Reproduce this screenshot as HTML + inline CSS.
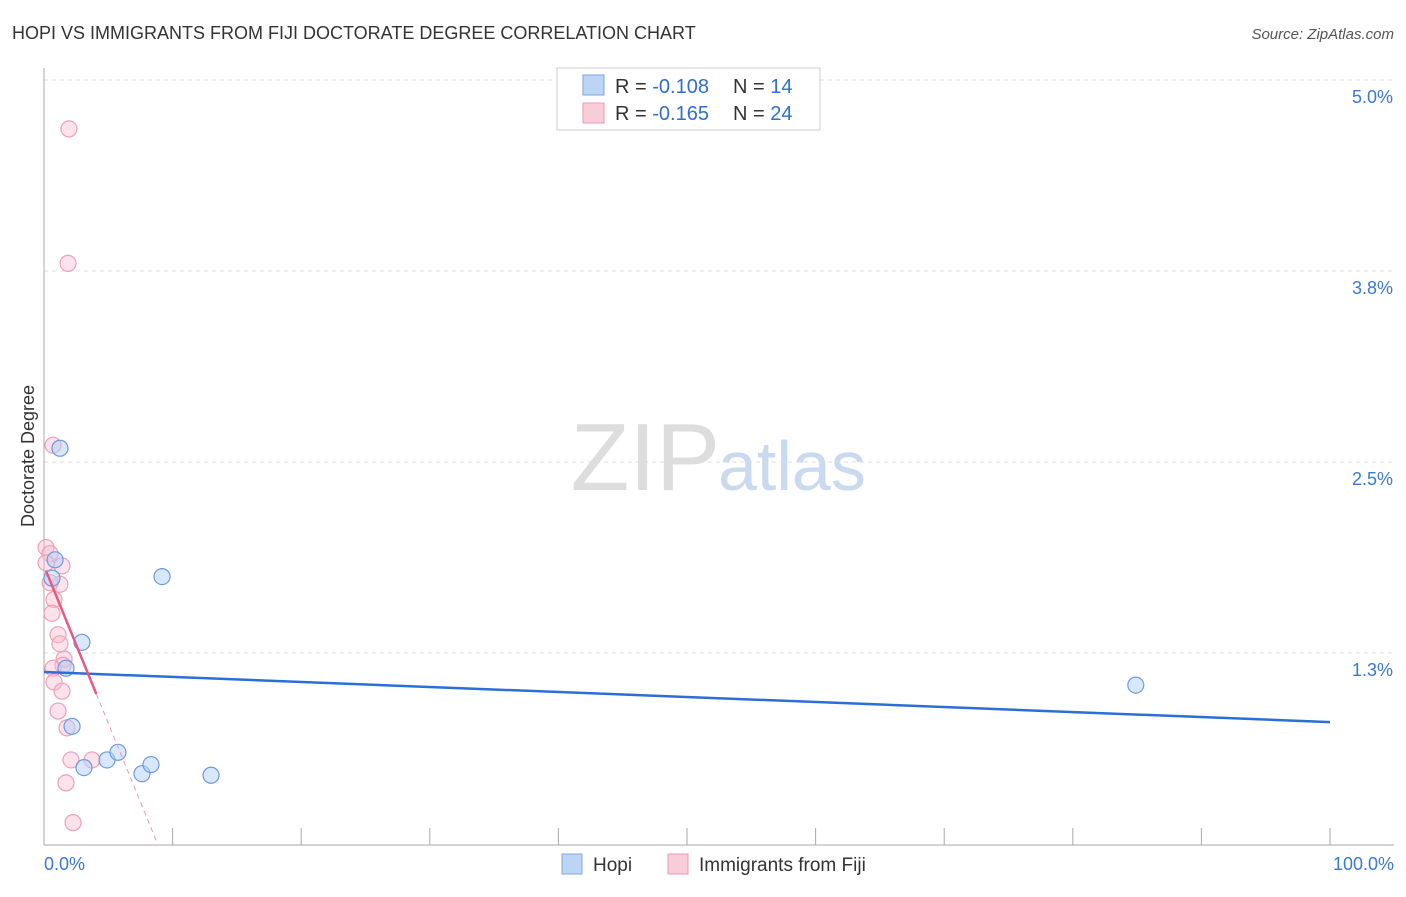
<!DOCTYPE html>
<html><head><meta charset="utf-8"><style>
body{margin:0;background:#fff;font-family:"Liberation Sans",sans-serif;}
svg text{font-family:"Liberation Sans",sans-serif;}
</style></head><body>
<svg id="c" width="1406" height="892">
<text x="12" y="39" font-size="18" fill="#333">HOPI VS IMMIGRANTS FROM FIJI DOCTORATE DEGREE CORRELATION CHART</text>
<text x="1394" y="39" font-size="15" fill="#555" font-style="italic" text-anchor="end">Source: ZipAtlas.com</text>
<text x="34" y="456" font-size="18" fill="#333" transform="rotate(-90 34 456)" text-anchor="middle">Doctorate Degree</text>
<text x="720" y="490" font-size="96" fill="#ddd" text-anchor="end" font-family="Liberation Serif">ZIP</text>
<text x="718" y="490" font-size="70" fill="#c9daf0">atlas</text>
<g id="grid"></g><g id="axes"></g><g id="marks"></g>
<g>
<rect x="557" y="68" width="263" height="62" fill="#fff" stroke="#ccc"/>
<rect x="583" y="75" width="21" height="20" fill="#bcd5f5" stroke="#7aa6e0"/>
<rect x="583" y="103" width="21" height="20" fill="#f9ccd9" stroke="#ec9ab4"/>
<text x="615" y="93" font-size="20" fill="#333">R = <tspan fill="#2f6fd0">-0.108</tspan></text>
<text x="733" y="93" font-size="20" fill="#333">N = <tspan fill="#2f6fd0"> 14</tspan></text>
<text x="615" y="120" font-size="20" fill="#333">R = <tspan fill="#2f6fd0">-0.165</tspan></text>
<text x="733" y="120" font-size="20" fill="#333">N = <tspan fill="#2f6fd0">24</tspan></text>
</g>
<g>
<rect x="562" y="854" width="20" height="20" fill="#bcd5f5" stroke="#7aa6e0"/>
<text x="593" y="871" font-size="19" fill="#333">Hopi</text>
<rect x="668" y="854" width="20" height="20" fill="#f9ccd9" stroke="#ec9ab4"/>
<text x="699" y="871" font-size="19" fill="#333">Immigrants from Fiji</text>
</g>
<text x="44" y="870" font-size="18" fill="#3a78d4">0.0%</text>
<text x="1394" y="870" font-size="18" fill="#3a78d4" text-anchor="end">100.0%</text>
</svg>
<script>
const yTicks=[5.0,3.75,2.5,1.25];
const yTickLabels=["5.0%","3.8%","2.5%","1.3%"];
const xTicks=[0,10,20,30,40,50,60,70,80,90,100];
const hopiX=[1.24,0.86,0.62,9.18,2.95,1.71,2.18,3.11,4.90,5.75,7.62,8.32,12.99,84.9];
const hopiY=[2.59,1.86,1.74,1.75,1.32,1.15,0.77,0.50,0.55,0.60,0.46,0.52,0.45,1.04];
const fijiX=[1.94,1.87,0.70,0.16,0.47,1.40,1.24,0.78,0.62,1.09,1.24,1.56,1.48,0.70,0.78,1.40,1.09,1.79,3.73,2.10,1.71,2.26,0.16,0.47];
const fijiY=[4.68,3.80,2.61,1.94,1.90,1.82,1.70,1.60,1.51,1.37,1.31,1.21,1.17,1.15,1.06,1.00,0.87,0.76,0.55,0.55,0.40,0.14,1.84,1.71];
const hopiTrend=[1.126,0.798]; // y at x=0 and x=100
const fijiTrend=[1.82,-0.206,4.07,8.8]; // intercept, slope, solid end, dashed end
const NS="http://www.w3.org/2000/svg";
const X=v=>44+v*12.86, Y=v=>80+(5-v)*152.8;
function mk(t,a,p){const e=document.createElementNS(NS,t);for(const k in a)e.setAttribute(k,a[k]);p.appendChild(e);return e;}
const grid=document.getElementById('grid'),axes=document.getElementById('axes'),marks=document.getElementById('marks');
yTicks.forEach((v,i)=>{
 const l=mk('line',{x1:44,x2:1394,y1:Y(v),y2:Y(v),stroke:'#ddd','stroke-dasharray':'4,4'},grid);
 
 
 const t=mk('text',{x:1393,y:Y(v)+23,'font-size':18,fill:'#3a78d4','text-anchor':'end'},grid);
 t.textContent=yTickLabels[i];
 
 
});
let a=mk('line',{x1:44,x2:44,y1:68,y2:845,stroke:'#aaa'},axes);


a=mk('line',{x1:44,x2:1394,y1:845,y2:845,stroke:'#aaa'},axes);


xTicks.forEach(v=>{
 const t=mk('line',{x1:X(v),x2:X(v),y1:828,y2:845,stroke:'#aaa'},axes);
 
 
});
fijiX.forEach((x,i)=>{
 const c=mk('circle',{cx:X(x),cy:Y(fijiY[i]),r:8,fill:'rgba(249,190,208,0.45)',stroke:'#eea0b8','stroke-width':1.2},marks);
 
 
});
hopiX.forEach((x,i)=>{
 const c=mk('circle',{cx:X(x),cy:Y(hopiY[i]),r:8,fill:'rgba(180,208,245,0.5)',stroke:'#6b9be0','stroke-width':1.2},marks);
 
 
});
let ln=mk('line',{x1:X(0),y1:Y(hopiTrend[0]),x2:X(100),y2:Y(hopiTrend[1]),stroke:'#2a6fd6','stroke-width':2.5},marks);


const fy=x=>fijiTrend[0]+fijiTrend[1]*x;
ln=mk('line',{x1:X(0.16),y1:Y(fy(0.16)),x2:X(fijiTrend[2]),y2:Y(fy(fijiTrend[2])),stroke:'#e45a85','stroke-width':2.5},marks);


ln=mk('line',{x1:X(fijiTrend[2]),y1:Y(fy(fijiTrend[2])),x2:X(fijiTrend[3]),y2:Y(fy(fijiTrend[3])),stroke:'#e99ab3','stroke-width':1,'stroke-dasharray':'5,4'},marks);


</script>
</body></html>
